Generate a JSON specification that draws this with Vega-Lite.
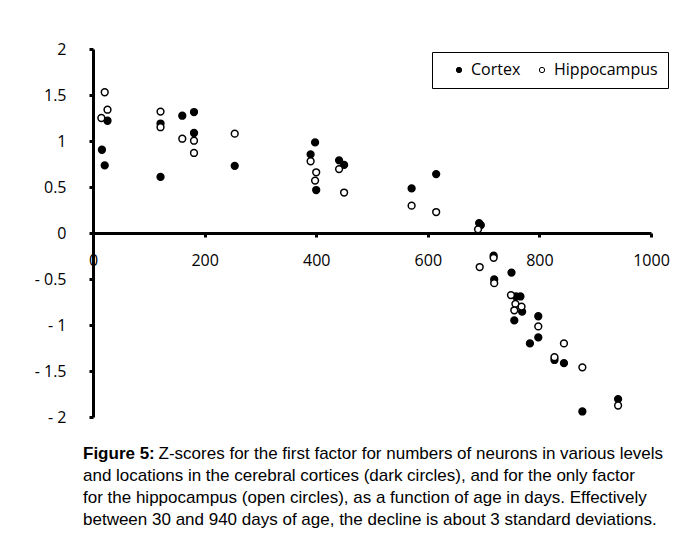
{
  "$schema": "https://vega.github.io/schema/vega-lite/v6.json",
  "width": 558,
  "height": 368,
  "autosize": {"type": "none"},
  "padding": {"left": 93, "top": 49, "right": 26, "bottom": 119},
  "background": "white",
  "config": {
    "view": {"stroke": null},
    "axis": {
      "grid": false,
      "title": null,
      "domainColor": "black",
      "domainWidth": 3,
      "tickColor": "black",
      "tickWidth": 3,
      "tickSize": 4,
      "labelFont": "Open Sans",
      "labelFontSize": 16,
      "labelColor": "black",
      "labelOverlap": false,
      "labelFlush": false
    }
  },
  "title": {
    "text": "Figure 5:",
    "subtitle": [
      "\u200b\u00a0\u00a0\u00a0\u00a0\u00a0\u00a0\u00a0\u00a0\u00a0\u00a0\u00a0\u00a0\u00a0\u00a0\u00a0\u00a0Z-scores for the first factor for numbers of neurons in various levels",
      "and locations in the cerebral cortices (dark circles), and for the only factor",
      "for the hippocampus (open circles), as a function of age in days. Effectively",
      "between 30 and 940 days of age, the decline is about 3 standard deviations."
    ],
    "orient": "bottom",
    "anchor": "start",
    "frame": "group",
    "font": "Liberation Sans",
    "fontSize": 17,
    "fontWeight": "bold",
    "color": "black",
    "subtitleFont": "Liberation Sans",
    "subtitleFontSize": 17,
    "subtitleColor": "black",
    "subtitleLineHeight": 22,
    "subtitlePadding": -17,
    "offset": 21,
    "dx": -10
  },
  "data": {
    "values": [
      {"age": 26, "z": 1.22, "series": "Cortex"},
      {"age": 16, "z": 0.905, "series": "Cortex"},
      {"age": 21, "z": 0.735, "series": "Cortex"},
      {"age": 121, "z": 1.19, "series": "Cortex"},
      {"age": 121, "z": 0.61, "series": "Cortex"},
      {"age": 160, "z": 1.275, "series": "Cortex"},
      {"age": 181, "z": 1.315, "series": "Cortex"},
      {"age": 181, "z": 1.087, "series": "Cortex"},
      {"age": 254, "z": 0.73, "series": "Cortex"},
      {"age": 398, "z": 0.985, "series": "Cortex"},
      {"age": 390, "z": 0.855, "series": "Cortex"},
      {"age": 400, "z": 0.467, "series": "Cortex"},
      {"age": 441, "z": 0.79, "series": "Cortex"},
      {"age": 450, "z": 0.74, "series": "Cortex"},
      {"age": 571, "z": 0.485, "series": "Cortex"},
      {"age": 615, "z": 0.64, "series": "Cortex"},
      {"age": 692, "z": 0.108, "series": "Cortex"},
      {"age": 695, "z": 0.085, "series": "Cortex"},
      {"age": 718, "z": -0.247, "series": "Cortex"},
      {"age": 750, "z": -0.43, "series": "Cortex"},
      {"age": 719, "z": -0.505, "series": "Cortex"},
      {"age": 758, "z": -0.69, "series": "Cortex"},
      {"age": 766, "z": -0.69, "series": "Cortex"},
      {"age": 769, "z": -0.855, "series": "Cortex"},
      {"age": 755, "z": -0.95, "series": "Cortex"},
      {"age": 798, "z": -0.905, "series": "Cortex"},
      {"age": 798, "z": -1.135, "series": "Cortex"},
      {"age": 783, "z": -1.2, "series": "Cortex"},
      {"age": 827, "z": -1.38, "series": "Cortex"},
      {"age": 844, "z": -1.415, "series": "Cortex"},
      {"age": 877, "z": -1.94, "series": "Cortex"},
      {"age": 941, "z": -1.805, "series": "Cortex"},
      {"age": 21, "z": 1.53, "series": "Hippocampus"},
      {"age": 26, "z": 1.34, "series": "Hippocampus"},
      {"age": 15, "z": 1.25, "series": "Hippocampus"},
      {"age": 121, "z": 1.32, "series": "Hippocampus"},
      {"age": 121, "z": 1.15, "series": "Hippocampus"},
      {"age": 160, "z": 1.025, "series": "Hippocampus"},
      {"age": 181, "z": 1.003, "series": "Hippocampus"},
      {"age": 181, "z": 0.87, "series": "Hippocampus"},
      {"age": 254, "z": 1.08, "series": "Hippocampus"},
      {"age": 390, "z": 0.78, "series": "Hippocampus"},
      {"age": 400, "z": 0.66, "series": "Hippocampus"},
      {"age": 398, "z": 0.57, "series": "Hippocampus"},
      {"age": 441, "z": 0.695, "series": "Hippocampus"},
      {"age": 450, "z": 0.44, "series": "Hippocampus"},
      {"age": 571, "z": 0.297, "series": "Hippocampus"},
      {"age": 615, "z": 0.228, "series": "Hippocampus"},
      {"age": 690, "z": 0.04, "series": "Hippocampus"},
      {"age": 718, "z": -0.27, "series": "Hippocampus"},
      {"age": 693, "z": -0.37, "series": "Hippocampus"},
      {"age": 719, "z": -0.545, "series": "Hippocampus"},
      {"age": 749, "z": -0.675, "series": "Hippocampus"},
      {"age": 757, "z": -0.77, "series": "Hippocampus"},
      {"age": 768, "z": -0.8, "series": "Hippocampus"},
      {"age": 755, "z": -0.84, "series": "Hippocampus"},
      {"age": 798, "z": -1.015, "series": "Hippocampus"},
      {"age": 844, "z": -1.2, "series": "Hippocampus"},
      {"age": 827, "z": -1.35, "series": "Hippocampus"},
      {"age": 877, "z": -1.46, "series": "Hippocampus"},
      {"age": 941, "z": -1.875, "series": "Hippocampus"}
    ]
  },
  "mark": {
    "type": "point",
    "shape": "circle",
    "filled": true,
    "stroke": "black",
    "strokeWidth": 1.5,
    "size": 46,
    "opacity": 1
  },
  "encoding": {
    "x": {
      "field": "age",
      "type": "quantitative",
      "scale": {"domain": [0, 1000], "nice": false, "zero": false},
      "axis": {
        "values": [0, 200, 400, 600, 800, 1000],
        "format": "d",
        "offset": -184,
        "labelPadding": 15
      }
    },
    "y": {
      "field": "z",
      "type": "quantitative",
      "scale": {"domain": [-2, 2], "nice": false},
      "axis": {
        "values": [-2, -1.5, -1, -0.5, 0, 0.5, 1, 1.5, 2],
        "labelExpr": "datum.value < 0 ? '- ' + format(-datum.value, '') : format(datum.value, '')",
        "labelPadding": 23
      }
    },
    "fill": {
      "field": "series",
      "type": "nominal",
      "scale": {"domain": ["Cortex", "Hippocampus"], "range": ["black", "white"]},
      "legend": {
        "title": null,
        "orient": "none",
        "legendX": 339,
        "legendY": 3,
        "direction": "horizontal",
        "strokeColor": "black",
        "fillColor": "white",
        "padding": 10,
        "labelFont": "Open Sans",
        "labelFontSize": 16,
        "labelColor": "black",
        "symbolType": "circle",
        "symbolSize": 28,
        "symbolStrokeColor": "black",
        "symbolStrokeWidth": 1,
        "columnPadding": 4,
        "labelOffset": 4,
        "symbolOffset": 9
      }
    }
  }
}
